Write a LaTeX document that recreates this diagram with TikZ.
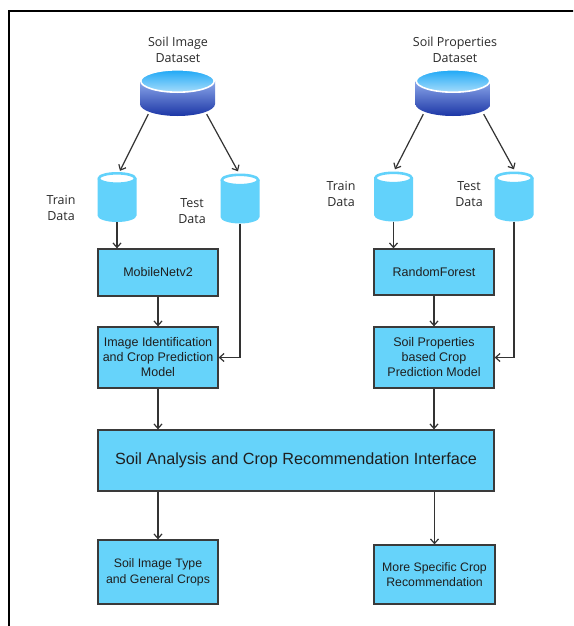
\documentclass[tikz,border=0pt]{standalone}
\usepackage{fontspec}
\setmainfont{Liberation Sans}
\newfontfamily\labelfont{Open Sans}
\usetikzlibrary{arrows.meta,calc}
\definecolor{boxblue}{HTML}{66D3FA}
\definecolor{boxline}{HTML}{3A3A3A}
\definecolor{cylblue}{HTML}{62D2FB}
\definecolor{lidtop}{HTML}{1EA8F6}
\definecolor{lidbot}{HTML}{A6DCFB}
\definecolor{bodytop}{HTML}{8CA8EA}
\definecolor{bodybot}{HTML}{1C36A6}
\definecolor{labeltext}{HTML}{2A2A2A}
\begin{document}
\begin{tikzpicture}[x=1pt,y=-1pt,
  box/.style={draw=boxline, line width=1.3pt, fill=boxblue, align=center, inner sep=0pt,
    font=\fontsize{12.5}{15}\selectfont, text=black!88},
  arr/.style={draw=black!80, line width=1.2pt, -{Straight Barb[length=4.5pt,width=8pt]}},
  lbl/.style={font=\labelfont\fontsize{12.5}{16}\selectfont, text=labeltext, align=center, inner sep=0pt},
  smallcyl/.style={minimum width=39pt, minimum height=50pt, inner sep=0pt,
    path picture={
      \coordinate (pc) at (path picture bounding box.center);
      \fill[cylblue] ($(pc)+(-19.5,-18.5)$) -- ($(pc)+(-19.5,18.5)$)
        arc[start angle=180,end angle=0,x radius=19.5,y radius=6.5]
        -- ($(pc)+(19.5,-18.5)$) -- cycle;
      \filldraw[fill=white, draw=cylblue, line width=2.6pt] ($(pc)+(0,-18.5)$) ellipse[x radius=18.2, y radius=5.2];
    }},
  bigcyl/.style={minimum width=75pt, minimum height=47pt, inner sep=0pt,
    path picture={
      \coordinate (pc) at (path picture bounding box.center);
      \path[top color=bodytop, bottom color=bodybot] ($(pc)+(-37.5,-11.5)$) -- ($(pc)+(-37.5,11.5)$)
        arc[start angle=180,end angle=0,x radius=37.5,y radius=12]
        -- ($(pc)+(37.5,-11.5)$) -- cycle;
      \path[top color=lidtop, bottom color=lidbot, draw=white, line width=1.6pt] ($(pc)+(0,-11.5)$) ellipse[x radius=36.7, y radius=11.2];
    }}
]
\useasboundingbox (0,0) rectangle (573,626);
\clip (0,0) rectangle (573,626);
\fill[white] (0,0) rectangle (573,626);
% frame
\draw[line width=2pt, black] (9,640) -- (9,11) -- (590,11);

% datasets
\node[lbl] (titleA) at (178,50) {Soil Image\\Dataset};
\node[lbl] (titleB) at (455,49.5) {Soil Properties\\Dataset};
\node[bigcyl] (bigA) at (177.5,92.5) {};
\node[bigcyl] (bigB) at (453,92.5) {};

% small cylinders
\node[smallcyl] (trainA) at (117,197) {};
\node[smallcyl] (testA) at (240,198.5) {};
\node[smallcyl] (trainB) at (393.5,196.5) {};
\node[smallcyl] (testB) at (514,196.5) {};

\node[lbl] (trainlabA) at (61,208) {Train\\Data};
\node[lbl] (testlabA) at (192,211) {Test\\Data};
\node[lbl] (trainlabB) at (341,194) {Train\\Data};
\node[lbl] (testlabB) at (469,194) {Test\\Data};

% boxes
\node[box, minimum width=120pt, minimum height=47pt] (mob) at (158,272.5) {MobileNetv2};
\node[box, minimum width=120pt, minimum height=61pt] (imgid) at (158,357.5) {Image Identification\\and Crop Prediction\\Model};
\node[box, minimum width=120pt, minimum height=46pt] (rf) at (434,272) {RandomForest};
\node[box, minimum width=120pt, minimum height=61pt] (spm) at (434,357.5) {Soil Properties\\based Crop\\Prediction Model};
\node[box, minimum width=396pt, minimum height=61pt, font=\fontsize{16.2}{19}\selectfont] (iface) at (296,460.5) {Soil Analysis and Crop Recommendation Interface};
\node[box, minimum width=120pt, minimum height=64pt, font=\fontsize{12.3}{16}\selectfont] (outA) at (158,572) {Soil Image Type\\and General Crops};
\node[box, minimum width=121pt, minimum height=59pt, font=\fontsize{12.3}{15}\selectfont] (outB) at (434.5,574.5) {More Specific Crop\\Recommendation};

% connectors
\draw[arr] ($(bigA.south west)+(8.5,-2)$) -- ($(trainA.north)+(3,-1)$);
\draw[arr] ($(bigA.south east)+(-8.5,-2)$) -- ($(testA.north)+(-2,-2)$);
\draw[arr] ($(bigB.south west)+(8,-2)$) -- ($(trainB.north)+(1.5,-2)$);
\draw[arr] ($(bigB.south east)+(-7,-2)$) -- ($(testB.north)+(0,-2)$);

\draw[arr] (trainA.south) -- (trainA.south |- mob.north);
\draw[arr] (testA.south) |- (imgid.east);
\draw[arr] (trainB.south) -- (trainB.south |- rf.north);
\draw[arr] (testB.south) |- (spm.east);

\draw[arr] (mob.south) -- (imgid.north);
\draw[arr] (rf.south) -- (spm.north);
\draw[arr] (imgid.south) -- (imgid.south |- iface.north);
\draw[arr] (spm.south) -- (spm.south |- iface.north);
\draw[arr] (outA.north |- iface.south) -- (outA.north);
\draw[arr] (outB.north |- iface.south) -- (outB.north);
\end{tikzpicture}
\end{document}
